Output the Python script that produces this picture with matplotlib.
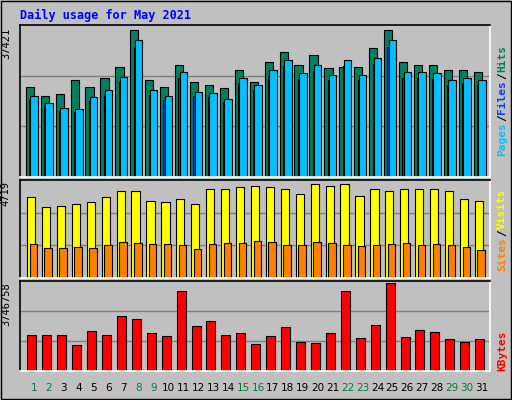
import matplotlib
matplotlib.use("Agg")
import matplotlib.pyplot as plt
import numpy as np

days = list(range(1, 32))
weekend = [1, 2, 8, 9, 15, 16, 22, 23, 29, 30]
hits_px = [87,95,93,80,87,78,67,30,80,87,65,82,85,88,70,82,62,52,65,55,68,67,67,48,30,62,65,65,70,70,72]
pages_px = [95,102,107,108,96,90,77,40,90,95,72,91,92,98,78,85,70,60,73,65,75,60,75,58,40,72,72,73,80,78,80]
visits_px = [198,208,207,205,203,198,192,192,202,203,200,205,190,190,188,187,188,190,195,185,187,185,197,190,192,190,190,190,192,200,202]
sites_px = [244,248,248,247,248,245,242,243,244,244,245,249,244,243,243,241,242,245,245,242,243,245,246,245,244,243,245,244,245,247,250]
kb_px = [335,335,335,345,331,335,316,319,333,336,292,326,321,335,333,344,336,327,342,343,333,292,338,325,284,337,330,332,339,342,339]

hits = [round((176 - p) / 146 * 37421) for p in hits_px]
pages = [round((176 - p) / 146 * 37421) for p in pages_px]
files = [round(v * 0.95) for v in pages]
visits = [round((277 - p) / 92 * 4719) for p in visits_px]
sites = [round((277 - p) / 92 * 4719) for p in sites_px]
kbytes = [round((370 - p) / 86 * 3746758) for p in kb_px]

bg = "#C0C0C0"
W, H = 512, 400
fig = plt.figure(figsize=(5.12, 4.0), dpi=100, facecolor=bg)
X0, X1 = 0.06, 31.54

def ax_px(x0, y0, x1, y1):
    return fig.add_axes([x0 / W, 1 - y1 / H, (x1 - x0) / W, (y1 - y0) / H])

fig.text(20 / W, 1 - 15 / H, "Daily usage for May 2021", family="DejaVu Sans Mono",
         weight="bold", color="#0000FF", fontsize=8.5, va="center")

x = np.arange(1, 32)

def setup(ax, ymax, label):
    ax.set_facecolor(bg)
    ax.set_xlim(X0, X1)
    ax.set_ylim(0, ymax)
    ax.set_xticks([])
    ax.set_yticks([])
    for s in ["top", "left"]:
        ax.spines[s].set_color("black")
    for s in ["bottom", "right"]:
        ax.spines[s].set_color("white")
    for sp in ax.spines.values():
        sp.set_linewidth(1.2)
    for f in (1/3, 2/3):
        ax.axhline(ymax * f, color="#808080", lw=1, zorder=0)
    ax.text(-0.03, 0.985, label, transform=ax.transAxes, rotation=90, ha="center", va="top",
            fontsize=7.5, family="DejaVu Sans Mono")

ax1 = ax_px(20, 25, 490, 177)
setup(ax1, 37421 * 1.035, "37421")
ax1.bar(x - 0.28, hits, width=0.55, color="#008060", edgecolor="black", lw=0.8)
ax1.bar(x - 0.08, files, width=0.5, color="#0040FF", edgecolor="black", lw=0.8)
ax1.bar(x + 0.0, pages, width=0.5, color="#00C0FF", edgecolor="black", lw=0.8)

ax2 = ax_px(20, 180, 490, 278)
setup(ax2, 4719 * 1.04, "4719")
ax2.bar(x - 0.2, visits, width=0.55, color="#FFFF00", edgecolor="black", lw=0.8)
ax2.bar(x - 0.05, sites, width=0.5, color="#FF8000", edgecolor="black", lw=0.8)

ax3 = ax_px(20, 281, 490, 371)
setup(ax3, 3746758 * 1.02, "3746758")
ax3.bar(x - 0.15, kbytes, width=0.6, color="#FF0000", edgecolor="black", lw=0.8)

for d in days:
    xf = (20 + (d - X0) / (X1 - X0) * 470) / W
    fig.text(xf, 1 - 388 / H, str(d), ha="center", va="center", fontsize=7.5,
             color="#008040" if d in weekend else "black")

def side(y_center, parts):
    fs = 8
    total = sum(len(t) for t, _ in parts)
    ch = 7.0
    y = y_center + total * ch / 2
    for t, c in parts:
        fig.text(502 / W, 1 - y / H, t, rotation=90, ha="center", va="bottom",
                 color=c, fontsize=fs, family="DejaVu Sans Mono", weight="bold")
        y -= len(t) * ch

side(100, [("Pages", "#00C0FF"), ("/", "black"), ("Files", "#0040FF"), ("/", "black"), ("Hits", "#008060")])
side(229, [("Sites", "#FF8000"), ("/", "black"), ("Visits", "#FFFF00")])
side(350, [("KBytes", "#FF0000")])

fig.add_artist(plt.Rectangle((0.002, 0.002), 0.996, 0.996, transform=fig.transFigure,
                             fill=False, edgecolor="black", lw=1))
fig.savefig("out.png", dpi=100, facecolor=bg)
